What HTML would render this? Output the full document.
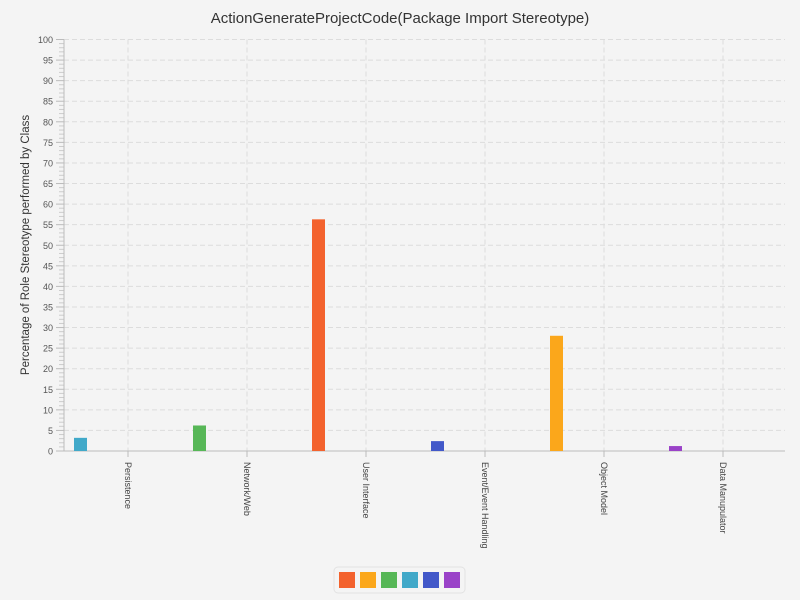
<!DOCTYPE html>
<html><head><meta charset="utf-8"><style>
html,body{margin:0;width:800px;height:600px;overflow:hidden;background:#f4f4f4;font-family:"Liberation Sans",sans-serif}
svg{display:block}
</style></head><body>
<svg width="800" height="600" xmlns="http://www.w3.org/2000/svg" id="chart">
<rect width="800" height="600" fill="#f4f4f4"/>
<text x="400" y="23" text-anchor="middle" font-size="15" fill="#333">ActionGenerateProjectCode(Package Import Stereotype)</text>
<text transform="translate(29,245) rotate(-90)" text-anchor="middle" font-size="11.5" fill="#333">Percentage of Role Stereotype performed by Class</text>
<g id="grid"></g><g id="axes"></g><g id="bars"></g>
<rect x="334" y="567" width="131" height="26" rx="4" fill="#f4f4f4" stroke="#e2e2e2"/>
<g id="legend"></g>
</svg>
<script>
const categories=["Persistence","Network/Web","User Interface","Event/Event Handling","Object Model","Data Manupulator"];
const values=[3.2,6.2,56.3,2.4,28,1.2];
const barSeries=[3,2,0,4,1,5];
const colors=["#f3622d","#fba71b","#57b757","#41a9c9","#4258c9","#9a42c8"];
const yTicks=[0,5,10,15,20,25,30,35,40,45,50,55,60,65,70,75,80,85,90,95,100];
const NS="http://www.w3.org/2000/svg";
const X0=64,X1=785,Y0=451,Y1=39.5;
const y=v=>Y0-(v/100)*(Y0-Y1);
const xc=i=>128+119*i;
function mk(t,a,p){const e=document.createElementNS(NS,t);for(const k in a)e.setAttribute(k,a[k]);p.appendChild(e);return e;}
const grid=document.getElementById('grid'),axes=document.getElementById('axes'),bars=document.getElementById('bars'),legend=document.getElementById('legend');
yTicks.forEach(v=>{
  if(v>0){const g=mk('line',{x1:X0,x2:X1,y1:y(v),y2:y(v),stroke:'#dcdcdc','stroke-dasharray':'5,3'},grid);
  
  }
  const t=mk('line',{x1:56,x2:X0,y1:y(v),y2:y(v),stroke:'#bbb'},axes);
  
  
  const l=mk('text',{x:53,y:y(v)+3.5,'text-anchor':'end','font-size':9,fill:'#555'},axes);
  l.textContent=v;
  
  
  if(v<100)for(let m=1;m<5;m++){mk('line',{x1:59,x2:X0,y1:y(v+m),y2:y(v+m),stroke:'#ccc'},axes);}
});
categories.forEach((c,i)=>{
  const g=mk('line',{x1:xc(i),x2:xc(i),y1:Y1,y2:Y0,stroke:'#dcdcdc','stroke-dasharray':'5,3'},grid);
  
  
  mk('line',{x1:xc(i),x2:xc(i),y1:Y0,y2:Y0+6,stroke:'#bbb'},axes);
  const t=mk('text',{transform:`translate(${xc(i)-3},${Y0+11}) rotate(90)`,'font-size':9,fill:'#444'},axes);
  t.textContent=c;
  
  
  const b=mk('rect',{x:xc(i)-54,y:y(values[i]),width:13,height:Y0-y(values[i]),fill:colors[barSeries[i]]},bars);
  
  
});
mk('line',{x1:X0,x2:X0,y1:Y1,y2:Y0,stroke:'#bbb'},axes);
mk('line',{x1:X0,x2:X1,y1:Y0,y2:Y0,stroke:'#bbb'},axes);
colors.forEach((c,i)=>{
  const s=mk('rect',{x:339+21*i,y:572,width:16,height:16,fill:c},legend);
  
  
});
</script>
</body></html>
